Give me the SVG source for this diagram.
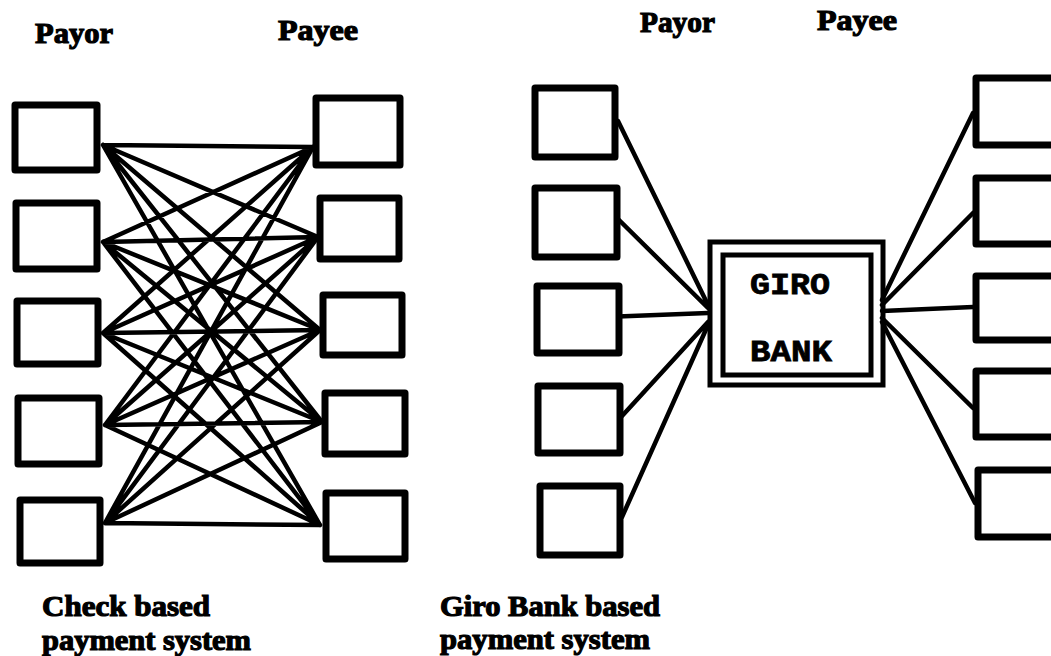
<svg xmlns="http://www.w3.org/2000/svg" width="1051" height="656" viewBox="0 0 1051 656">
<style>
.box{fill:#fff;stroke:#000;stroke-width:7;stroke-linejoin:round}
.bank{fill:none;stroke:#000;stroke-width:5}
.ln{stroke:#000;stroke-width:4.5;stroke-linecap:round;fill:none}
.hd{font-family:"Liberation Serif",serif;font-weight:bold;font-size:30px;fill:#000;stroke:#000;stroke-width:1.2}
.bk{font-family:"Liberation Mono",monospace;font-weight:bold;font-size:30px;fill:#000;stroke:#000;stroke-width:0.8}
</style>
<rect width="1051" height="656" fill="#fff"/>
<g id="labels">
<text class="hd" x="35" y="43" textLength="78" lengthAdjust="spacingAndGlyphs">Payor</text>
<text class="hd" x="278" y="40" textLength="80" lengthAdjust="spacingAndGlyphs">Payee</text>
<text class="hd" x="640" y="32" textLength="75" lengthAdjust="spacingAndGlyphs">Payor</text>
<text class="hd" x="817" y="30" textLength="80" lengthAdjust="spacingAndGlyphs">Payee</text>
<text class="hd" x="42" y="616" textLength="168" lengthAdjust="spacingAndGlyphs">Check based</text>
<text class="hd" x="42" y="650" textLength="209" lengthAdjust="spacingAndGlyphs">payment system</text>
<text class="hd" x="440" y="616" textLength="220" lengthAdjust="spacingAndGlyphs">Giro Bank based</text>
<text class="hd" x="440" y="649" textLength="210" lengthAdjust="spacingAndGlyphs">payment system</text>
</g>
<g id="connectors">
<path class="ln" d="M103,145 L313,147 M103,145 L318,237 M103,145 L320,330 M103,145 L322,422 M103,145 L320,525
M103,242 L313,147 M103,242 L318,237 M103,242 L320,330 M103,242 L322,422 M103,242 L320,525
M103,333 L313,147 M103,333 L318,237 M103,333 L320,330 M103,333 L322,422 M103,333 L320,525
M105,425 L313,147 M105,425 L318,237 M105,425 L320,330 M105,425 L322,422 M105,425 L320,525
M105,523 L313,147 M105,523 L318,237 M105,523 L320,330 M105,523 L322,422 M105,523 L320,525"/>
<path class="ln" d="M618,121 L708,305 M618,219 L708,308 M605,317 L708,313 M622,416 L708,322 M622,517 L708,325"/>
<path class="ln" d="M882,300 L973,113 M882,305 L973,213 M882,311 L973,307 M882,318 L973,408 M882,322 L975,503"/>
</g>
<g id="check-payors">
<rect id="cp1" class="box" x="15" y="105" width="82" height="65"/>
<rect id="cp2" class="box" x="16" y="203" width="81" height="66"/>
<rect id="cp3" class="box" x="17" y="301" width="81" height="63"/>
<rect id="cp4" class="box" x="18" y="398" width="81" height="66"/>
<rect id="cp5" class="box" x="20" y="500" width="80" height="63"/>
</g>
<g id="check-payees">
<rect id="ce1" class="box" x="316" y="98" width="84" height="67"/>
<rect id="ce2" class="box" x="320" y="198" width="79" height="61"/>
<rect id="ce3" class="box" x="323" y="295" width="79" height="60"/>
<rect id="ce4" class="box" x="325" y="393" width="80" height="61"/>
<rect id="ce5" class="box" x="326" y="493" width="79" height="66"/>
</g>
<g id="giro-payors">
<rect id="gp1" class="box" x="535" y="88" width="80" height="69"/>
<rect id="gp2" class="box" x="535" y="188" width="82" height="69"/>
<rect id="gp3" class="box" x="537" y="286" width="82" height="67"/>
<rect id="gp4" class="box" x="538" y="386" width="82" height="67"/>
<rect id="gp5" class="box" x="540" y="486" width="80" height="69"/>
</g>
<g id="giro-bank">
<rect class="bank" x="710" y="242" width="173" height="143"/>
<rect class="bank" x="723" y="255" width="148" height="120"/>
<text class="bk" x="750" y="294" textLength="80" lengthAdjust="spacingAndGlyphs">GIRO</text>
<text class="bk" x="750" y="361" textLength="82" lengthAdjust="spacingAndGlyphs">BANK</text>
</g>
<g id="giro-payees">
<rect id="ge1" class="box" x="976" y="78" width="90" height="67"/>
<rect id="ge2" class="box" x="976" y="178" width="90" height="66"/>
<rect id="ge3" class="box" x="976" y="276" width="90" height="64"/>
<rect id="ge4" class="box" x="976" y="371" width="90" height="66"/>
<rect id="ge5" class="box" x="978" y="470" width="90" height="67"/>
</g>
</svg>
